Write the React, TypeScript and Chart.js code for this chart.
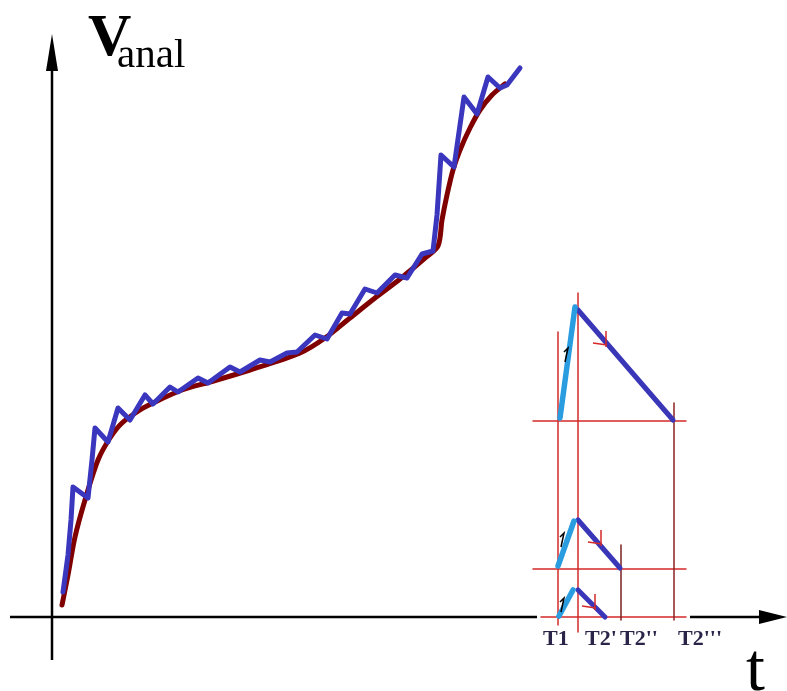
import React, { useEffect, useRef } from "react";
import { Chart, registerables } from "chart.js";
Chart.register(...registerables);

// Analytical (smooth) curve, dark red
const smoothT = [10, 16, 23, 33, 46, 58, 70, 88, 103, 130, 158, 198, 248, 273, 298, 323, 348, 373, 386, 390, 395, 401, 408, 418, 428, 440, 453];
const smoothV = [12, 42, 80, 117, 157, 179, 194, 207, 215, 227, 235, 247, 264, 279, 299, 319, 338, 359, 371, 397, 422, 447, 467, 489, 507, 522, 533];

// Stepwise (sawtooth) curve, blue
const stepT = [11, 16, 19, 21, 36, 40, 43, 56, 66, 78, 93, 101, 118, 126, 146, 156, 178, 188, 208, 218, 235, 245, 263, 275, 290, 298, 313, 325, 343, 355, 370, 381, 385, 389, 402, 412, 425, 436, 448, 455, 468];
const stepV = [25, 62, 97, 130, 119, 157, 189, 175, 209, 197, 222, 213, 230, 225, 239, 234, 250, 245, 257, 255, 264, 265, 282, 278, 304, 303, 328, 324, 342, 339, 363, 366, 402, 462, 450, 520, 503, 540, 529, 532, 549];

// Inset: marked times and labels
const markTimes = [506, 526, 569, 622];
const markLabels = ["T1", "T2'", "T2''", "T2'''"];
const markLabelT = [491, 533, 568, 626];
const markTop = [285, 324, 72, 214];
const markBottom = [-8, -15, -3, -3];
const markColors = ["#d42a2a", "#d42a2a", "#7a2020", "#8a2222"];
const levelV = [196, 48, 0];
const levelStart = [481, 481, 489];
const levelEnd = 634;

// Inset triangles: rise (light blue) and fall (dark blue)
const riseT0 = [508, 506, 507];
const riseV0 = [199, 51, 1];
const riseT1 = [523, 522, 521];
const riseV1 = [310, 96, 27];
const fallT0 = [526, 526, 526];
const fallV0 = [307, 97, 27];
const fallT1 = [621, 568, 553];
const fallV1 = [197, 49, 0];

// small direction marks
const upMarkT = [515, 511, 511];
const upMarkV = [262, 77, 12];
const downMarkT = [551, 546, 540];
const downMarkV = [274, 75, 11];

const X_MIN = -52, X_MAX = 735, Y_MIN = -74, Y_MAX = 617;

const diagramPlugin = {
  id: "diagram",
  beforeDatasetsDraw(chart: any) {
    const { ctx, scales } = chart;
    const X = (t: number) => scales.x.getPixelForValue(t);
    const Y = (v: number) => scales.y.getPixelForValue(v);
    ctx.save();
    ctx.strokeStyle = "#000";
    ctx.fillStyle = "#000";
    ctx.lineWidth = 2.5;
    // vertical axis
    ctx.beginPath();
    ctx.moveTo(X(0), Y(-43));
    ctx.lineTo(X(0), Y(555));
    ctx.stroke();
    ctx.beginPath();
    ctx.moveTo(X(0), Y(583));
    ctx.lineTo(X(0) - 6, Y(546));
    ctx.lineTo(X(0) + 6, Y(546));
    ctx.closePath();
    ctx.fill();
    // horizontal axis
    ctx.beginPath();
    ctx.moveTo(X(-42), Y(0));
    ctx.lineTo(X(485), Y(0));
    ctx.moveTo(X(638), Y(0));
    ctx.lineTo(X(712), Y(0));
    ctx.stroke();
    ctx.beginPath();
    ctx.moveTo(X(735), Y(0));
    ctx.lineTo(X(707), Y(0) - 7);
    ctx.lineTo(X(707), Y(0) + 7);
    ctx.closePath();
    ctx.fill();
    ctx.restore();
  },
  afterDatasetsDraw(chart: any) {
    const { ctx, scales } = chart;
    const X = (t: number) => scales.x.getPixelForValue(t);
    const Y = (v: number) => scales.y.getPixelForValue(v);
    ctx.save();
    ctx.textBaseline = "alphabetic";
    ctx.textAlign = "left";
    ctx.fillStyle = "#000";
    ctx.font = "bold 60px 'Liberation Serif', 'DejaVu Serif', serif";
    ctx.fillText("V", X(36), Y(562));
    ctx.font = "41px 'Liberation Serif', 'DejaVu Serif', serif";
    ctx.fillText("anal", X(65), Y(550));
    ctx.font = "68px 'Liberation Serif', 'DejaVu Serif', serif";
    ctx.fillText("t", X(694), Y(-73));
    ctx.fillStyle = "#2a2448";
    ctx.font = "bold 22px 'Liberation Serif', 'DejaVu Serif', serif";
    markLabels.forEach((lab, i) => ctx.fillText(lab, X(markLabelT[i]), Y(-28)));
    // small marks
    ctx.lineWidth = 1.5;
    upMarkT.forEach((t, i) => {
      const px = X(t), py = Y(upMarkV[i]);
      ctx.strokeStyle = "#000";
      ctx.beginPath();
      ctx.moveTo(px - 2, py + 7);
      ctx.lineTo(px + 1, py - 7);
      ctx.lineTo(px - 3, py - 3);
      ctx.stroke();
    });
    downMarkT.forEach((t, i) => {
      const px = X(t), py = Y(downMarkV[i]);
      ctx.strokeStyle = "#d42a2a";
      ctx.beginPath();
      ctx.moveTo(px - 10, py);
      ctx.lineTo(px + 4, py + 2);
      ctx.moveTo(px + 3, py - 12);
      ctx.lineTo(px + 3, py + 4);
      ctx.stroke();
    });
    ctx.restore();
  },
};

export default function App() {
  const ref = useRef<HTMLCanvasElement | null>(null);
  useEffect(() => {
    if (!ref.current) return;
    const seg = (pts: { x: number; y: number }[], color: string, width: number, order: number) => ({
      data: pts,
      showLine: true,
      borderColor: color,
      backgroundColor: color,
      borderWidth: width,
      pointRadius: 0,
      fill: false,
      tension: 0,
      order,
    });
    const datasets: any[] = [];
    markTimes.forEach((t, i) =>
      datasets.push(seg([{ x: t, y: markBottom[i] }, { x: t, y: markTop[i] }], markColors[i], 1.5, 10))
    );
    levelV.forEach((v, i) =>
      datasets.push(seg([{ x: levelStart[i], y: v }, { x: levelEnd, y: v }], "#d42a2a", 1.5, 10))
    );
    riseT0.forEach((t, i) =>
      datasets.push(seg([{ x: t, y: riseV0[i] }, { x: riseT1[i], y: riseV1[i] }], "#2a9de0", 5.5, 5))
    );
    fallT0.forEach((t, i) =>
      datasets.push(seg([{ x: t, y: fallV0[i] }, { x: fallT1[i], y: fallV1[i] }], "#3a36b8", 5, 5))
    );
    datasets.push({
      ...seg(smoothT.map((t, i) => ({ x: t, y: smoothV[i] })), "#800000", 5, 3),
      tension: 0.3,
    });
    datasets.push(seg(stepT.map((t, i) => ({ x: t, y: stepV[i] })), "#3a36bd", 5, 1));

    const chart = new Chart(ref.current, {
      type: "scatter",
      data: { datasets },
      options: {
        animation: false,
        responsive: false,
        devicePixelRatio: 1,
        layout: { padding: 0 },
        plugins: { legend: { display: false }, tooltip: { enabled: false } },
        scales: {
          x: { type: "linear", min: X_MIN, max: X_MAX, display: false },
          y: { type: "linear", min: Y_MIN, max: Y_MAX, display: false },
        },
        elements: { line: { borderCapStyle: "round", borderJoinStyle: "round" } },
      },
      plugins: [diagramPlugin],
    });
    return () => chart.destroy();
  }, []);
  return (
    <div style={{ position: "absolute", left: 0, top: 0, width: 787, height: 691, background: "#fff" }}>
      <canvas ref={ref} width={787} height={691} style={{ display: "block" }} />
    </div>
  );
}
